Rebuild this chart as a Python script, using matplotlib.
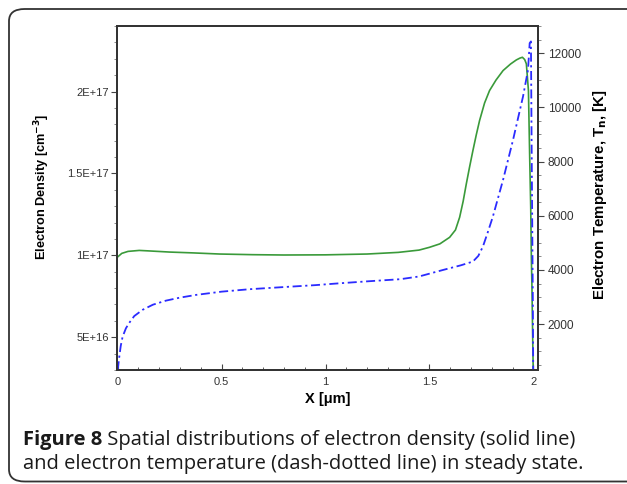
import matplotlib
matplotlib.use("Agg")
import matplotlib.pyplot as plt
from matplotlib.patches import FancyBboxPatch
from matplotlib.ticker import MultipleLocator

# ---- data ----
x_density = [0.000, 0.02, 0.05, 0.104, 0.15, 0.25, 0.36, 0.49, 0.65, 0.80, 1.00,
             1.20, 1.35, 1.45, 1.50, 1.55, 1.597, 1.625, 1.645, 1.662, 1.677,
             1.693, 1.709, 1.725, 1.741, 1.765, 1.789, 1.82, 1.854, 1.89,
             1.918, 1.935, 1.947, 1.958, 1.966, 1.976, 1.982, 1.987, 1.990,
             1.993, 1.995, 1.997, 1.999]
density = [0.99e17, 1.012e17, 1.024e17, 1.030e17, 1.027e17, 1.020e17, 1.015e17,
           1.008e17, 1.004e17, 1.002e17, 1.003e17, 1.008e17, 1.018e17, 1.032e17,
           1.049e17, 1.07e17, 1.11e17, 1.155e17, 1.232e17, 1.33e17, 1.435e17,
           1.54e17, 1.64e17, 1.735e17, 1.823e17, 1.93e17, 2.006e17, 2.07e17,
           2.128e17, 2.168e17, 2.193e17, 2.204e17, 2.209e17, 2.195e17, 2.169e17,
           2.006e17, 1.60e17, 1.29e17, 0.99e17, 0.80e17, 0.62e17, 0.45e17,
           0.30e17]

x_temp = [0.000, 0.005, 0.008, 0.015, 0.024, 0.040, 0.056, 0.080, 0.12, 0.17,
          0.233, 0.30, 0.377, 0.50, 0.634, 0.80, 0.95, 1.07, 1.20, 1.36, 1.45,
          1.565, 1.65, 1.709, 1.735, 1.757, 1.78, 1.805, 1.854, 1.902, 1.95,
          1.974, 1.982, 1.988, 1.991, 1.994, 1.997, 1.999]
temperature = [300, 600, 800, 1200, 1540, 1850, 2050, 2300, 2530, 2720, 2870,
               2980, 3080, 3200, 3290, 3370, 3440, 3510, 3580, 3660, 3760, 4000,
               4170, 4310, 4520, 4863, 5380, 5970, 7325, 8800, 10400, 11385,
               12370, 12430, 9000, 6000, 3000, 300]

x_ticks = [0, 0.5, 1, 1.5, 2]
x_ticklabels = ["0", "0.5", "1", "1.5", "2"]
left_ticks = [5e16, 1e17, 1.5e17, 2e17]
left_ticklabels = ["5E+16", "1E+17", "1.5E+17", "2E+17"]
right_ticks = [2000, 4000, 6000, 8000, 10000, 12000]

caption_bold = "Figure 8"
caption_line1 = " Spatial distributions of electron density (solid line)"
caption_line2 = "and electron temperature (dash-dotted line) in steady state."

W, H = 627, 484
fig = plt.figure(figsize=(W / 100, H / 100), dpi=100)

# rounded border box
box = FancyBboxPatch((9 / W, 2.5 / H), 700 / W, 472.5 / H,
                     boxstyle="round,pad=0,rounding_size=0.025",
                     transform=fig.transFigure, fill=False,
                     edgecolor="#333333", linewidth=1.3, clip_on=False)
fig.patches.append(box)

ax = fig.add_axes([117 / W, 1 - 370 / H, (538 - 117) / W, (370 - 26) / H])
ax2 = ax.twinx()

green = "#3a9a3a"
blue = "#2b2bff"
ax.plot(x_density, density, color=green, lw=1.2, solid_joinstyle="round")
ax2.plot(x_temp, temperature, color=blue, lw=1.3,
         linestyle=(0, (5, 2, 1.2, 2)))

ax.set_xlim(-0.003, 2.022)
ax.set_ylim(3.0e16, 2.4e17)
ax2.set_ylim(310, 13000)

tick_l = dict(family="Liberation Sans", size=8, color="#333333")
tick_r = dict(family="Liberation Sans", size=8.6, color="#333333")
ax.set_xticks(x_ticks)
ax.set_xticklabels(x_ticklabels, **tick_l)
ax.xaxis.set_minor_locator(MultipleLocator(0.1))
ax.set_yticks(left_ticks)
ax.set_yticklabels(left_ticklabels, **tick_l)
ax.yaxis.set_minor_locator(MultipleLocator(1e16))
ax2.set_yticks(right_ticks)
ax2.set_yticklabels([str(t) for t in right_ticks], **tick_r)
ax2.yaxis.set_minor_locator(MultipleLocator(500))

ax.tick_params(axis="x", which="major", direction="in", length=4, width=0.8,
               color="#444444", pad=5)
ax.tick_params(axis="x", which="minor", direction="in", length=2.5, width=0.6,
               color="#444444")
ax.tick_params(axis="y", which="major", direction="out", length=4, width=0.8,
               color="#444444", pad=2)
ax.tick_params(axis="y", which="minor", direction="out", length=2.5, width=0.6,
               color="#777777")
ax2.tick_params(axis="y", which="major", direction="out", length=4, width=0.8,
                color="#444444", pad=3)
ax2.tick_params(axis="y", which="minor", direction="out", length=2.5, width=0.6,
                color="#777777")

for a in (ax, ax2):
    for s in a.spines.values():
        s.set_linewidth(1.3)
        s.set_color("#333333")

ax.set_xlabel("X [μm]", family="Liberation Sans", size=10.5, weight="bold",
              labelpad=4)
ax.set_ylabel("Electron Density [cm$^{\\mathbf{-3}}$]", family="Liberation Sans",
              size=9.2, weight="bold")
ax.yaxis.set_label_coords(-0.155, 0.532)
ax2.set_ylabel("Electron Temperature, T$_{\\mathbf{n}}$, [K]",
               family="Liberation Sans", size=10.8, weight="bold")
ax2.yaxis.set_label_coords(1.127, 0.51)

cap_font = dict(family="Open Sans", size=14.5, color="#1a1a1a")
t1 = fig.text(23 / W, 1 - 444.5 / H, caption_bold, weight="bold", **cap_font)
fig.canvas.draw()
bb = t1.get_window_extent()
fig.text(bb.x1 / W, 1 - 444.5 / H, caption_line1, **cap_font)
fig.text(23 / W, 1 - 468.5 / H, caption_line2, **cap_font)

fig.savefig("out.png", dpi=100)
